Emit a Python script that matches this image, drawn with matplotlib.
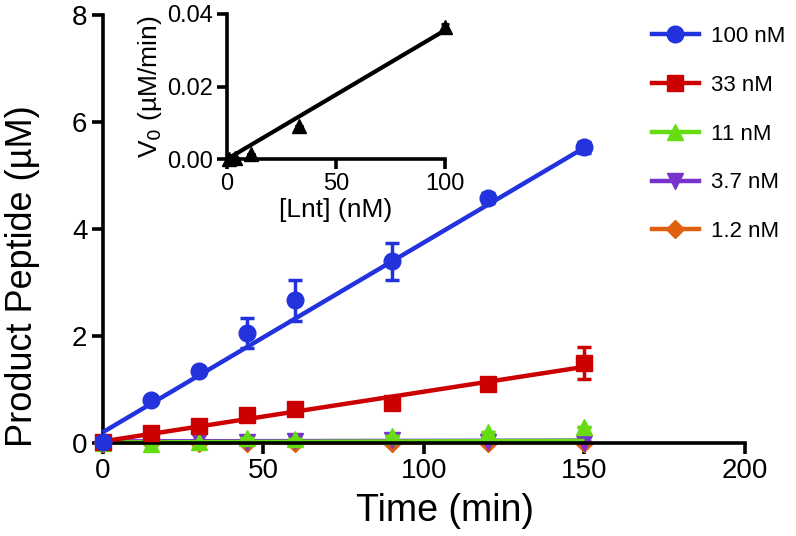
import matplotlib
matplotlib.use("Agg")
import matplotlib.pyplot as plt
import numpy as np

plt.rcParams['font.family'] = ['Liberation Sans', 'DejaVu Sans']

time = [0, 15, 30, 45, 60, 90, 120, 150]
labels = ["100 nM", "33 nM", "11 nM", "3.7 nM", "1.2 nM"]
vals_100 = [0.02, 0.80, 1.35, 2.05, 2.67, 3.40, 4.58, 5.53]
err_100 = [0.02, 0.05, 0.05, 0.28, 0.38, 0.35, 0.10, 0.10]
vals_33 = [0.02, 0.18, 0.32, 0.52, 0.63, 0.75, 1.10, 1.50]
err_33 = [0.01, 0.03, 0.04, 0.05, 0.05, 0.06, 0.06, 0.30]
vals_11 = [0.00, -0.01, 0.02, 0.09, 0.08, 0.14, 0.21, 0.30]
err_11 = [0.0, 0.0, 0.0, 0.0, 0.0, 0.0, 0.0, 0.0]
vals_37 = [0.00, 0.00, 0.06, 0.02, 0.04, 0.06, 0.02, 0.00]
vals_12 = [0.00, 0.00, 0.00, 0.00, 0.00, 0.00, 0.00, 0.00]
# linear fits (intercept, slope)
fit_100 = (0.20, 0.0355)
fit_33 = (0.03, 0.0093)
fit_11 = (0.01, 0.0002)
fit_37 = (0.03, 0.0001)
fit_12 = (0.005, 0.00005)

inset_conc = [1.2, 3.7, 11, 33, 100]
inset_v0 = [0.0, 0.0002, 0.0015, 0.0092, 0.0365]
inset_err = [0.0, 0.0, 0.0, 0.0, 0.0008]
inset_fit = (0.0, 0.000355)

colors = ["#2233dd", "#cc0000", "#66dd11", "#7733cc", "#e06010"]
markers = ["o", "s", "^", "v", "D"]
msizes = [12, 11, 12, 12, 9]

fig = plt.figure(figsize=(7.96, 5.36), dpi=100)
ax = fig.add_axes([0.129, 0.1735, 0.807, 0.798])

series = [(vals_100, err_100, fit_100), (vals_33, err_33, fit_33),
          (vals_11, err_11, fit_11), (vals_37, None, fit_37), (vals_12, None, fit_12)]
order = [4, 3, 2, 1, 0]
handles = [None] * 5
for i in order:
    v, e, f = series[i]
    z = 2 + (4 - i) * 0.2
    tline = np.array([0, 150])
    ax.plot(tline, f[0] + f[1] * tline, color=colors[i], lw=3.2,
            solid_capstyle='butt', clip_on=False, zorder=z)
    if e is not None:
        ax.errorbar(time, v, yerr=e, fmt='none', ecolor=colors[i], elinewidth=2.5,
                    capsize=5, capthick=2.5, clip_on=False, zorder=z + 0.1)
    ax.plot(time, v, linestyle='none', marker=markers[i], ms=msizes[i],
            color=colors[i], clip_on=False, zorder=z + 0.1)
    handles[i] = plt.Line2D([], [], color=colors[i], lw=3.2, marker=markers[i],
                            ms=msizes[i])

ax.set_xlim(0, 200)
ax.set_ylim(0, 8)
ax.set_xticks([0, 50, 100, 150, 200])
ax.set_yticks([0, 2, 4, 6, 8])
for s in ['top', 'right']:
    ax.spines[s].set_visible(False)
for s in ['left', 'bottom']:
    ax.spines[s].set_linewidth(2.6)
ax.tick_params(width=2.6, length=8, labelsize=20, direction='out', pad=3)
ax.set_xlabel("Time (min)", fontsize=27)
ax.set_ylabel("Product Peptide (µM)", fontsize=26)
ax.xaxis.set_label_coords(0.533, -0.118)
ax.yaxis.set_label_coords(-0.097, 0.39)

leg = fig.legend(handles, labels, loc='upper left', bbox_to_anchor=(0.808, 0.968),
                 frameon=False, fontsize=16, handlelength=2.1, labelspacing=1.25,
                 handletextpad=0.55, borderaxespad=0)

# inset
ins = fig.add_axes([0.285, 0.703, 0.274, 0.271])
cx = np.array([0, 100])
ins.plot(cx, inset_fit[0] + inset_fit[1] * cx, color='black', lw=3, clip_on=False, zorder=2)
ins.errorbar(inset_conc, inset_v0, yerr=inset_err, fmt='^', color='black', ms=10,
             elinewidth=2, capsize=3, capthick=2, clip_on=False, zorder=3)
ins.set_xlim(0, 100)
ins.set_ylim(0, 0.04)
ins.set_xticks([0, 50, 100])
ins.set_yticks([0.00, 0.02, 0.04])
ins.set_yticklabels(["0.00", "0.02", "0.04"])
for s in ['top', 'right']:
    ins.spines[s].set_visible(False)
for s in ['left', 'bottom']:
    ins.spines[s].set_linewidth(2.6)
ins.tick_params(width=2.6, length=7, labelsize=17, direction='out', pad=3)
ins.set_xlabel("[Lnt] (nM)", fontsize=19, labelpad=2)
ins.set_ylabel("V$_0$ (µM/min)", fontsize=19, labelpad=2)

fig.savefig("out.png", dpi=100)
